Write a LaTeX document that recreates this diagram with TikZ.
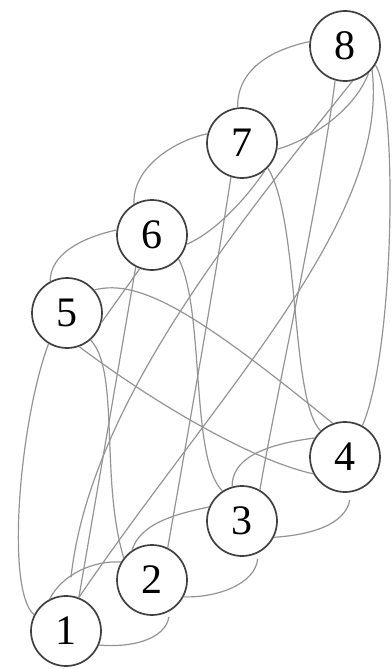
\documentclass[tikz,border=0pt]{standalone}
\usepackage{fontspec}
\newfontfamily\numfont{Liberation Serif}
\begin{document}
\begin{tikzpicture}[x=1pt,y=-1pt,
  vtx/.style={circle,draw=black!75,line width=1.7pt,minimum size=70pt,inner sep=0pt,fill=white,font=\numfont\fontsize{42}{42}\selectfont},
  e/.style={draw=black!42,line width=1.2pt}]
\useasboundingbox[fill=white] (0,0) rectangle (391,669);
\node[vtx] (n8) at (345,46) {8};
\node[vtx] (n7) at (242,143) {7};
\node[vtx] (n6) at (152,235) {6};
\node[vtx] (n5) at (67,313) {5};
\node[vtx] (n4) at (345,457) {4};
\node[vtx] (n3) at (242,521) {3};
\node[vtx] (n2) at (152,580) {2};
\node[vtx] (n1) at (66,631) {1};
\draw[e] (n8.173) .. controls (270,50) and (237,70) .. (n7.97);
\draw[e] (n7.165) .. controls (170,142) and (132,170) .. (n6.120);
\draw[e] (n6.172) .. controls (80,238) and (50,255) .. (n5.118);
\draw[e,shorten <=8pt] (n4.-80) .. controls (345,525) and (310,535) .. (n3.-27);
\draw[e,shorten <=6pt] (n3.-63) .. controls (255,585) and (215,598) .. (n2.-28);
\draw[e,shorten <=6pt] (n2.-60) .. controls (165,640) and (130,648) .. (n1.-23);
\draw[e] (n5.-121) .. controls (20,420) and (5,590) .. (n1.153);
\draw[e] (n8.-32) .. controls (398,100) and (395,350) .. (n4.61);
\draw[e] (n8.-49) .. controls (355,110) and (310,140) .. (n7.-10);
\draw[e] (n8.-106) .. controls (320,200) and (275,400) .. (n3.60);
\draw[e,shorten >=18pt] (n8.-78) .. controls (250,210) and (90,400) .. (n1.85);
\draw[e] (n8.-41) .. controls (390,220) and (220,390) .. (n1.69);
\draw[e] (n7.-50) .. controls (245,200) and (215,232) .. (n6.-15);
\draw[e] (n7.-108) .. controls (220,250) and (185,450) .. (n2.64);
\draw[e] (n7.-44) .. controls (300,220) and (290,400) .. (n4.133);
\draw[e] (n6.-42) .. controls (205,310) and (190,460) .. (n3.123);
\draw[e] (n6.-117) -- (n1.69);
\draw[e] (n5.-15) -- (n6.-110);
\draw[e] (n5.40) .. controls (140,278) and (200,315) .. (n4.110);
\draw[e] (n5.-70) .. controls (150,400) and (250,460) .. (n4.208);
\draw[e] (n5.-49) .. controls (120,370) and (100,480) .. (n2.142);
\draw[e] (n4.148) .. controls (260,445) and (232,460) .. (n3.106);
\draw[e] (n3.157) .. controls (170,515) and (140,525) .. (n2.124);
\draw[e] (n1.117) .. controls (62,574) and (95,560) .. (n2.150);
\end{tikzpicture}
\end{document}
